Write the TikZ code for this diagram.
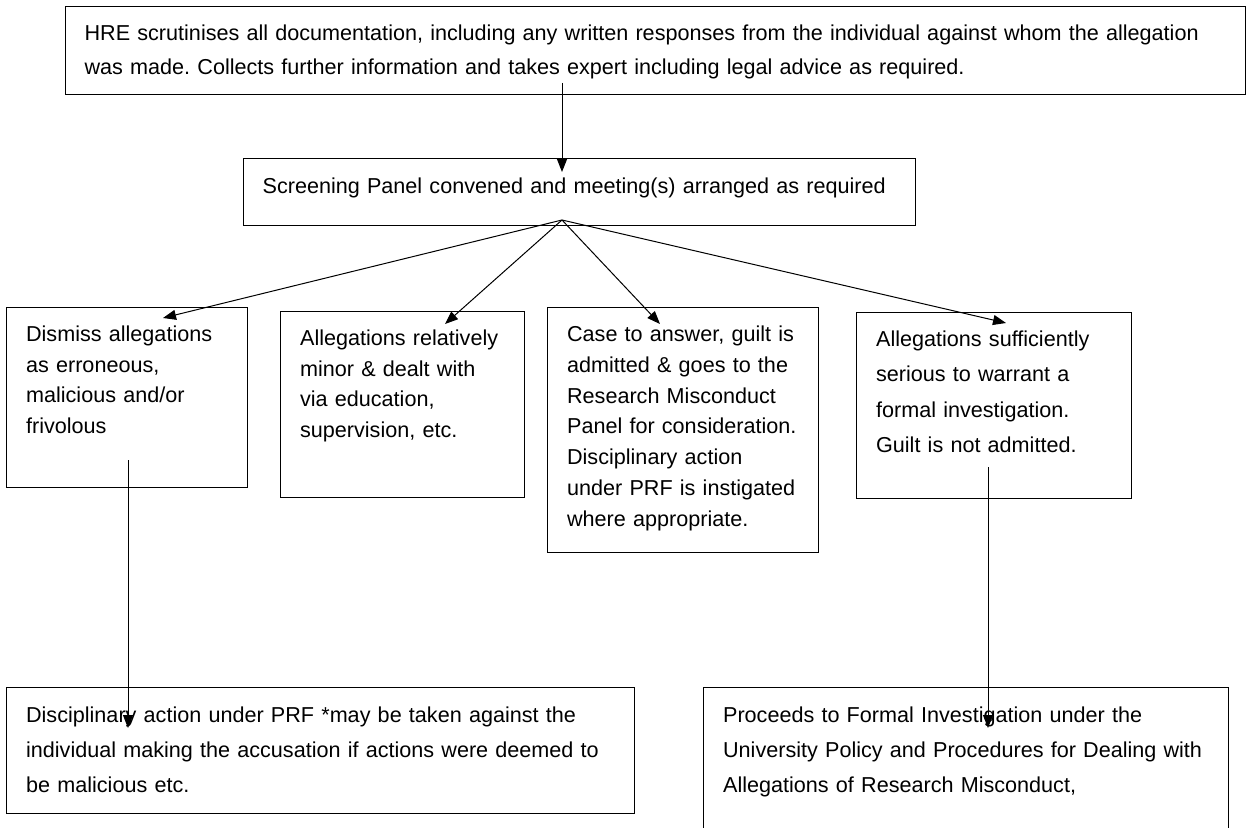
\documentclass[tikz,border=0pt]{standalone}
\usepackage{fontspec}
\setmainfont{Liberation Sans}
\usetikzlibrary{arrows.meta}
\frenchspacing
\newcommand{\boxfont}[1]{\fontsize{10.8}{#1}\selectfont}
\tikzset{
    stage/.style={
        draw, line width=0.6pt, anchor=north west, align=left,
        inner xsep=9.5pt, inner ysep=0pt, text height=17pt
    },
    flow/.style={
        line width=0.5pt, -{Triangle[length=6.5pt,width=5pt]}
    }
}
\begin{document}
\begin{tikzpicture}[x=0.5pt,y=-0.5pt]

	\useasboundingbox (0,0) rectangle (1247,828);
	\clip (0,0) rectangle (1247,828);

	% upper part
	\node[stage, font=\boxfont{17}, minimum width=590pt, text width=571pt, text depth=27pt] (hre) at (65,6)
		{HRE scrutinises all documentation, including any written responses from the individual against whom the allegation\\
		was made. Collects further information and takes expert including legal advice as required.};

	\node[stage, font=\boxfont{15}, minimum width=336pt, text width=317pt, text height=17.5pt, text depth=16pt] (panel) at (243,158)
		{Screening Panel convened and meeting(s) arranged as required};

	% outcomes of the screening
	\node[stage, font=\boxfont{15.25}, minimum width=120.5pt, text width=101pt, text depth=73pt] (dismiss) at (6,307)
		{Dismiss allegations\\ as erroneous,\\ malicious and/or\\ frivolous};

	\node[stage, font=\boxfont{15.25}, minimum width=122pt, text width=102.5pt, text depth=76pt] (minor) at (280,311)
		{Allegations relatively\\ minor \& dealt with\\ via education,\\ supervision, etc.};

	\node[stage, font=\boxfont{15.4}, minimum width=135.5pt, text width=116pt, text depth=105.5pt] (admitted) at (547,307)
		{Case to answer, guilt is\\ admitted \& goes to the\\ Research Misconduct\\ Panel for consideration.\\ Disciplinary action\\ under PRF is instigated\\ where appropriate.};

	\node[stage, font=\boxfont{17.65}, minimum width=137.5pt, text width=118pt, text depth=76pt] (serious) at (856,312)
		{Allegations sufficiently\\ serious to warrant a\\ formal investigation.\\ Guilt is not admitted.};

	% lower part
	\node[stage, font=\boxfont{17.5}, minimum width=314pt, text width=294.5pt, text height=17.5pt, text depth=45.5pt] (accuser) at (6,687)
		{Disciplinary action under PRF *may be taken against the\\
		individual making the accusation if actions were deemed to\\
		be malicious etc.};

	\node[stage, font=\boxfont{17.5}, minimum width=262.5pt, text width=243pt, text height=17.5pt, text depth=69pt] (formal) at (703,687)
		{Proceeds to Formal Investigation under the\\
		University Policy and Procedures for Dealing with\\
		Allegations of Research Misconduct,};

	% arrow ends
	\coordinate (hreout) at (562,83);
	\coordinate (panelin) at (562,172);
	\coordinate (panelout) at (562,220);
	\coordinate (dismissin) at (163,318);
	\coordinate (minorin) at (445,324);
	\coordinate (admittedin) at (660,324);
	\coordinate (seriousin) at (1006,323);
	\coordinate (dismissout) at (128,460);
	\coordinate (accuserin) at (128,728);
	\coordinate (seriousout) at (988,467);
	\coordinate (formalin) at (988,728);

	\draw[flow] (hreout) -- (panelin);

	\draw[flow] (panelout) -- (dismissin);
	\draw[flow] (panelout) -- (minorin);
	\draw[flow] (panelout) -- (admittedin);
	\draw[flow] (panelout) -- (seriousin);

	\draw[flow] (dismissout) -- (accuserin);
	\draw[flow] (seriousout) -- (formalin);

\end{tikzpicture}
\end{document}
